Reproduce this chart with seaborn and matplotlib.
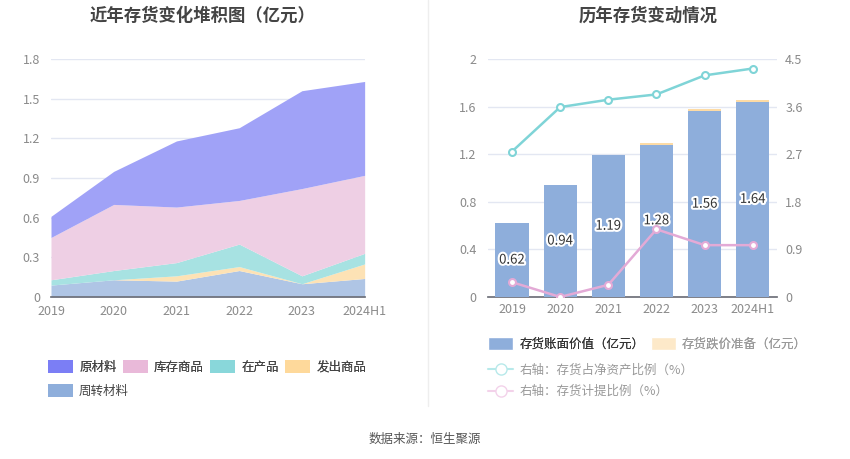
import numpy as np
import pandas as pd
import matplotlib
matplotlib.use("Agg")
import matplotlib.pyplot as plt
import matplotlib.patches as mpatches
import matplotlib.lines as mlines
import matplotlib.patheffects as pe
import seaborn as sns

# ---- data ----
years = ["2019", "2020", "2021", "2022", "2023", "2024H1"]

# stacked components (亿元), bottom to top
zhouzhuan = [0.09, 0.13, 0.12, 0.20, 0.10, 0.14]   # 周转材料
fachu = [0.00, 0.00, 0.04, 0.03, 0.00, 0.11]       # 发出商品
zaichan = [0.04, 0.07, 0.10, 0.17, 0.06, 0.08]     # 在产品
kucun = [0.32, 0.50, 0.42, 0.33, 0.66, 0.59]       # 库存商品
yuancailiao = [0.16, 0.25, 0.50, 0.55, 0.74, 0.71] # 原材料

book_value = [0.62, 0.94, 1.19, 1.28, 1.56, 1.64]   # 存货账面价值
provision = [0.002, 0.0, 0.003, 0.017, 0.016, 0.018]  # 存货跌价准备
ratio_net_assets = [2.75, 3.59, 3.73, 3.83, 4.19, 4.32]  # 存货占净资产比例 %
ratio_provision = [0.28, 0.0, 0.23, 1.28, 0.98, 0.98]    # 存货计提比例 %

df_bar = pd.DataFrame({"year": years, "book": book_value,
                       "total": np.array(book_value) + np.array(provision)})

# ---- style ----
sns.set_theme(style="white")
plt.rcParams['font.family'] = ['Noto Sans CJK SC', 'DejaVu Sans']

tick_col = "#8a8a8a"
grid_col = "#e3e7f2"
axis_col = "#6e7079"

fig = plt.figure(figsize=(8.5, 4.59), dpi=100)

# ==========================================
# Left: stacked area
# ==========================================
ax1 = fig.add_axes([0.060, 0.353, 0.369, 0.5185])
x = np.arange(len(years))
fill_cols = ["#afc5e5", "#fde2b5", "#a7e2e2", "#eecfe4", "#a0a2f7"]
ax1.stackplot(x, zhouzhuan, fachu, zaichan, kucun, yuancailiao,
              colors=fill_cols, linewidth=0, zorder=2)
ax1.set_xlim(0, 5)
ax1.set_ylim(0, 1.8)
ax1.set_yticks([0, 0.3, 0.6, 0.9, 1.2, 1.5, 1.8])
ax1.set_yticklabels(["0", "0.3", "0.6", "0.9", "1.2", "1.5", "1.8"])
ax1.set_xticks(x)
ax1.set_xticklabels(years)
ax1.yaxis.grid(True, color=grid_col, linewidth=1, zorder=0)
ax1.set_axisbelow(True)
for s in ["top", "right", "left"]:
    ax1.spines[s].set_visible(False)
ax1.spines["bottom"].set_color(axis_col)
ax1.tick_params(axis="x", colors=tick_col, labelsize=9, length=4, width=1,
                color=axis_col, pad=2)
ax1.tick_params(axis="y", colors=tick_col, labelsize=9, length=0, pad=8)

leg_cols = {"原材料": "#7b7ef5", "库存商品": "#e9b9d9", "在产品": "#89d7da",
            "发出商品": "#fed99b", "周转材料": "#8eaedb"}
leg_kw = dict(frameon=False, fontsize=9, handlelength=2.0, handleheight=1.2,
              handletextpad=0.5, columnspacing=0.5, labelcolor="#444444")
row1 = ["原材料", "库存商品", "在产品", "发出商品"]
la = fig.legend(handles=[mpatches.Patch(facecolor=leg_cols[k], edgecolor="none", label=k)
                         for k in row1],
                loc="center left", bbox_to_anchor=(0.043, 0.200), ncol=4, **leg_kw)
fig.add_artist(la)
fig.legend(handles=[mpatches.Patch(facecolor=leg_cols["周转材料"], edgecolor="none",
                                   label="周转材料")],
           loc="center left", bbox_to_anchor=(0.043, 0.148), ncol=1, **leg_kw)

fig.text(0.238, 0.965, "近年存货变化堆积图（亿元）", ha="center", va="center",
         fontsize=12.5, fontweight="bold", color="#444444")

# ==========================================
# Right: bars + lines
# ==========================================
ax2 = fig.add_axes([0.574, 0.353, 0.340, 0.5185])
sns.barplot(data=df_bar, x="year", y="total", color="#fddba5", saturation=1,
            width=0.69, ax=ax2, zorder=2, linewidth=0)
sns.barplot(data=df_bar, x="year", y="book", color="#8eaedb", saturation=1,
            width=0.69, ax=ax2, zorder=3, linewidth=0)
ax2.set_xlim(-0.5, 5.5)
ax2.set_ylim(0, 2)
ax2.set_yticks([0, 0.4, 0.8, 1.2, 1.6, 2.0])
ax2.set_yticklabels(["0", "0.4", "0.8", "1.2", "1.6", "2"])
ax2.set_xlabel("")
ax2.set_ylabel("")
ax2.yaxis.grid(True, color=grid_col, linewidth=1, zorder=0)
ax2.set_axisbelow(True)
for s in ["top", "right", "left"]:
    ax2.spines[s].set_visible(False)
ax2.spines["bottom"].set_color(axis_col)
ax2.tick_params(axis="x", colors=tick_col, labelsize=9, length=0, pad=4)
ax2.tick_params(axis="y", colors=tick_col, labelsize=9, length=0, pad=8)

for i, v in enumerate(book_value):
    ax2.text(i, v / 2, f"{v:.2f}", ha="center", va="center", fontsize=9.5,
             color="#333333", zorder=6,
             path_effects=[pe.withStroke(linewidth=3, foreground="white")])

ax3 = ax2.twinx()
ax3.set_position(ax2.get_position())
sns.lineplot(x=x, y=ratio_net_assets, ax=ax3, color="#7fd4d7", linewidth=1.8,
             marker="o", markersize=5, markerfacecolor="white",
             markeredgecolor="#7fd4d7", markeredgewidth=1.5, zorder=5)
sns.lineplot(x=x, y=ratio_provision, ax=ax3, color="#e3aad6", linewidth=1.8,
             marker="o", markersize=5, markerfacecolor="white",
             markeredgecolor="#e3aad6", markeredgewidth=1.5, zorder=5)
ax3.set_xlim(-0.5, 5.5)
ax3.set_ylim(0, 4.5)
ax3.set_yticks([0, 0.9, 1.8, 2.7, 3.6, 4.5])
ax3.set_yticklabels(["0", "0.9", "1.8", "2.7", "3.6", "4.5"])
ax3.grid(False)
for s in ["top", "right", "left", "bottom"]:
    ax3.spines[s].set_visible(False)
ax3.tick_params(axis="y", colors=tick_col, labelsize=9, length=0, pad=6)

lg1 = fig.legend(handles=[mpatches.Patch(facecolor="#8eaedb", label="存货账面价值（亿元）"),
                          mpatches.Patch(facecolor="#fde9c9", label="存货跌价准备（亿元）")],
                 loc="center left", bbox_to_anchor=(0.561, 0.250), ncol=2, frameon=False,
                 fontsize=9, handlelength=2.0, handleheight=1.2, handletextpad=0.5,
                 columnspacing=0.5)
lg1.get_texts()[0].set_color("#333333")
lg1.get_texts()[1].set_color("#999999")
fig.add_artist(lg1)

h_lines = [mlines.Line2D([], [], color="#b7e9ea", marker="o", markersize=8,
                         markerfacecolor="white", markeredgecolor="#b7e9ea",
                         label="右轴：存货占净资产比例（%）"),
           mlines.Line2D([], [], color="#f3d2ea", marker="o", markersize=8,
                         markerfacecolor="white", markeredgecolor="#f3d2ea",
                         label="右轴：存货计提比例（%）")]
fig.legend(handles=h_lines, loc="upper left", bbox_to_anchor=(0.561, 0.233),
           ncol=1, frameon=False, fontsize=9, handlelength=2.0,
           handletextpad=0.5, labelspacing=0.7, labelcolor="#999999")

fig.text(0.762, 0.965, "历年存货变动情况", ha="center", va="center",
         fontsize=12.5, fontweight="bold", color="#444444")

# divider and source
fig.add_artist(mlines.Line2D([0.503, 0.503], [0.115, 1.0], color="#eeeeee",
                             linewidth=1, transform=fig.transFigure))
fig.text(0.5, 0.042, "数据来源：恒生聚源", ha="center", va="center",
         fontsize=9, color="#555555")

fig.savefig("out.png", dpi=100)
